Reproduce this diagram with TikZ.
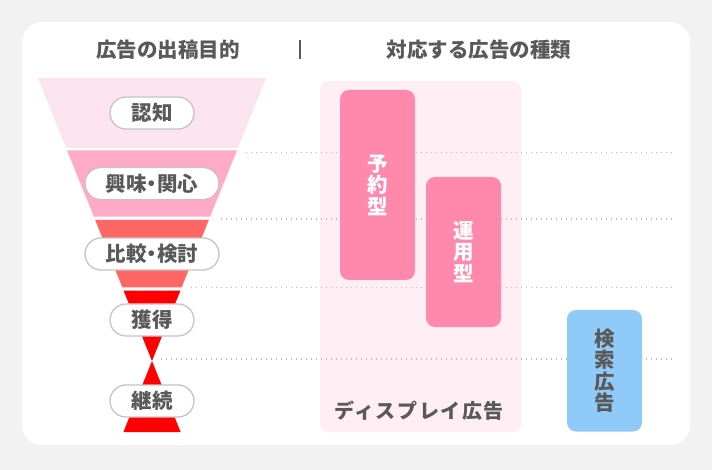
\documentclass[tikz,border=0pt]{standalone}
\usepackage{fontspec}
\setmainfont{Noto Sans CJK JP}
\definecolor{pagebg}{HTML}{F2F2F2}
\definecolor{txt}{HTML}{595959}
\definecolor{segA}{HTML}{FBE4EE}
\definecolor{segB}{HTML}{FFAAC6}
\definecolor{segC}{HTML}{FF6666}
\definecolor{segD}{HTML}{FF0000}
\definecolor{dispbg}{HTML}{FFEEF4}
\definecolor{pinkbox}{HTML}{FF88AD}
\definecolor{bluebox}{HTML}{90CAF9}
\definecolor{pillline}{HTML}{C4C4C4}
\definecolor{dotline}{HTML}{BBBBBB}
\newcommand{\middot}{\kern-5pt・\kern-5pt}
\begin{document}
\begin{tikzpicture}[x=1pt,y=-1pt,
  title/.style={text=txt,font=\fontsize{20.5}{22}\selectfont\bfseries,inner sep=0pt},
  pill/.style={draw=pillline,line width=1.3pt,fill=white,rounded corners=16pt,
    minimum height=32pt,inner sep=0pt,text=txt,font=\fontsize{20.5}{22}\selectfont\bfseries},
  adbox/.style={rounded corners=9pt,inner sep=0pt,align=center,
    font=\fontsize{20.5}{21.5}\selectfont\bfseries},
  guide/.style={draw=dotline,line width=1.4pt,dash pattern=on 1.4pt off 3.6pt},
]
\useasboundingbox (0,0) rectangle (712,470);
\fill[pagebg] (0,0) rectangle (712,470);
\fill[white,rounded corners=20pt] (22,22) rectangle (690,445);

% titles
\node[title] (t1) at (168,50) {広告の出稿目的};
\node[title] (t2) at (479,50) {対応する広告の種類};
\draw[txt,line width=1.5pt] (300,40) -- (300,59);

% funnel
\fill[segA] (38,78) -- (266,78) -- (237.8,148) -- (66.2,148) -- cycle;
\fill[segB] (67.1,150.5) -- (236.9,150.5) -- (210.1,216.7) -- (93.9,216.7) -- cycle;
\fill[segC] (95.2,220) -- (208.8,220) -- (181.7,287.3) -- (122.3,287.3) -- cycle;
\fill[segD] (123.6,290.7) -- (180.4,290.7) -- (152,361) -- cycle;
\fill[segD] (152,361) -- (180.6,432) -- (123.4,432) -- cycle;

% display background
\node[adbox,fill=dispbg,minimum width=201pt,minimum height=351pt] (disp) at (420.5,256.5) {};
\node[text=txt,font=\fontsize{20}{22}\selectfont\bfseries\addfontfeature{LetterSpace=8},inner sep=0pt] (displabel) at (419,411) {ディスプレイ広告};

% guide lines
\coordinate (g1s) at (246,152.7); \coordinate (g1e) at (672,152.7);
\coordinate (g2s) at (221,219);   \coordinate (g2e) at (672,219);
\coordinate (g3s) at (191,287.5); \coordinate (g3e) at (672,287.5);
\coordinate (g4s) at (161,359);   \coordinate (g4e) at (672,359);
\draw[guide] (g1s) -- (g1e);
\draw[guide] (g2s) -- (g2e);
\draw[guide] (g3s) -- (g3e);
\draw[guide] (g4s) -- (g4e);

% ad boxes
\node[adbox,fill=pinkbox,text=white,minimum width=75pt,minimum height=190pt] (yoyaku) at (377.5,185) {予\\約\\型};
\node[adbox,fill=pinkbox,text=white,minimum width=75pt,minimum height=150pt] (unyo) at (463.5,252) {運\\用\\型};
\node[adbox,fill=bluebox,text=txt,minimum width=75pt,minimum height=121.5pt] (kensaku) at (604.5,370.75) {検\\索\\広\\告};

% funnel labels
\node[pill,minimum width=84pt] (ninchi) at (152,113) {認知};
\node[pill,minimum width=134pt] (kyomi) at (152,183.5) {興味\middot 関心};
\node[pill,minimum width=134pt] (hikaku) at (152,254) {比較\middot 検討};
\node[pill,minimum width=84pt] (kakutoku) at (152,320) {獲得};
\node[pill,minimum width=84pt] (keizoku) at (152,401) {継続};
\end{tikzpicture}
\end{document}
